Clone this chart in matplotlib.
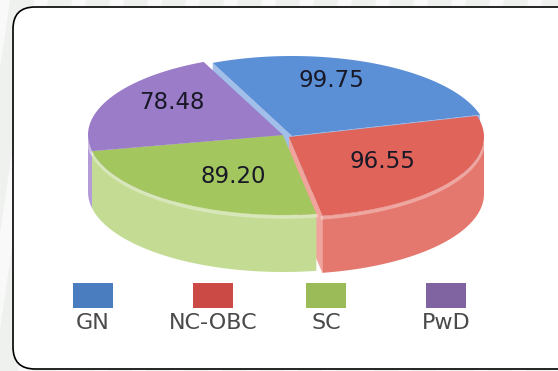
import numpy as np
import matplotlib.pyplot as plt
from matplotlib.patches import Polygon, Rectangle, FancyBboxPatch

# values shown on each slice ------------------------------------------------------------
categories = ["GN", "NC-OBC", "SC", "PwD"]
values = [99.75, 96.55, 89.20, 78.48]

# colours: top face, outer wall, cut face, legend swatch
top_colors = ["#5b8fd6", "#e0645a", "#a3c65e", "#9a7cc8"]
side_colors = ["#7aa4df", "#e5786e", "#c4db94", "#b39bd8"]
face_colors = ["#a2bfea", "#f0a49c", "#cfe2a6", "#c2addf"]
legend_colors = ["#4a7cc0", "#cc4a45", "#9bbb59", "#8064a2"]

# pie geometry (pixels) -------------------------------------------------------------------
cx, cy = 283, 135
rx, ry = 195, 80
depth = 57
start_angle = 114
shift = [(9, 1), (6, 2), (0, 0), (0, 0)]   # pulled-out slices, in pixels
label_r = [0.72, 0.57, 0.58, 0.7]
label_turn = [9, 0, 8, -8]

fig = plt.figure(figsize=(5.58, 3.71), dpi=100)
fig.patch.set_facecolor("#eef1ee")
ax = fig.add_axes([0, 0, 1, 1])
ax.set_xlim(0, 558)
ax.set_ylim(371, 0)
ax.axis("off")

# faint diagonal streaks in the margin
for x0 in range(-80, 620, 38):
    ax.add_patch(Polygon([(x0, 0), (x0 + 14, 0), (x0 - 40, 371), (x0 - 54, 371)],
                         closed=True, facecolor="white", edgecolor="none", alpha=0.6, zorder=0))

box = FancyBboxPatch((13, 7), 570, 362, boxstyle="round,pad=0,rounding_size=22",
                     facecolor="white", edgecolor="black", linewidth=1.2, zorder=1)
ax.add_patch(box)


def pt(a, off, r=1.0, dz=0.0):
    t = np.radians(a)
    return (cx + off[0] + r * rx * np.cos(t), cy + off[1] - r * ry * np.sin(t) + dz)


total = sum(values)
spans = [360 * v / total for v in values]
starts = start_angle - np.concatenate([[0], np.cumsum(spans)[:-1]])
ends = starts - np.array(spans)
mids = (starts + ends) / 2
offsets = shift

# cut faces along the slice edges (only the ones turned towards the viewer)
for i in range(len(values)):
    off = offsets[i]
    for a, normal in ((starts[i], starts[i] + 90), (ends[i], ends[i] - 90)):
        if np.sin(np.radians(normal)) < 0:
            quad = [pt(0, off, 0), pt(a, off), pt(a, off, dz=depth), pt(0, off, 0, dz=depth)]
            ax.add_patch(Polygon(quad, closed=True, facecolor=face_colors[i],
                                 edgecolor="none", zorder=2))

# outer walls on the front half
walls = []
for i in range(len(values)):
    lo, hi = ends[i], starts[i]
    for k in range(-2, 2):
        a0, a1 = max(lo, 180 + 360 * k), min(hi, 360 + 360 * k)
        if a1 > a0:
            walls.append((abs(((a0 + a1) / 2 + 90 + 180) % 360 - 180), i, a0, a1))
walls.sort(reverse=True)
for _, i, a0, a1 in walls:
    ts = np.linspace(a0, a1, 80)
    topc = [pt(t, offsets[i]) for t in ts]
    botc = [pt(t, offsets[i], dz=depth) for t in ts[::-1]]
    ax.add_patch(Polygon(topc + botc, closed=True, facecolor=side_colors[i],
                         edgecolor="none", zorder=3))
    ax.plot([p[0] for p in topc], [p[1] + 2 for p in topc], color="white",
            alpha=0.35, linewidth=2.5, zorder=3.5)

# top faces
for i in range(len(values)):
    ts = np.linspace(ends[i], starts[i], 120)
    poly = [pt(0, offsets[i], 0)] + [pt(t, offsets[i]) for t in ts]
    ax.add_patch(Polygon(poly, closed=True, facecolor=top_colors[i],
                         edgecolor="none", zorder=4))
    lx, ly = pt(mids[i] + label_turn[i], offsets[i], label_r[i])
    ax.text(lx, ly, f"{values[i]:.2f}", ha="center", va="center", fontsize=16.5,
            color="#181826", zorder=5)

# legend: swatch above each name
legend_x = [93, 213, 326, 446]
for x, name, col in zip(legend_x, categories, legend_colors):
    ax.add_patch(Rectangle((x - 20, 283), 40, 25, facecolor=col, edgecolor="none", zorder=5))
    ax.text(x, 323, name, ha="center", va="center", fontsize=16, color="#4a4a4a", zorder=5)

fig.savefig("out.png", dpi=100, facecolor=fig.get_facecolor())
